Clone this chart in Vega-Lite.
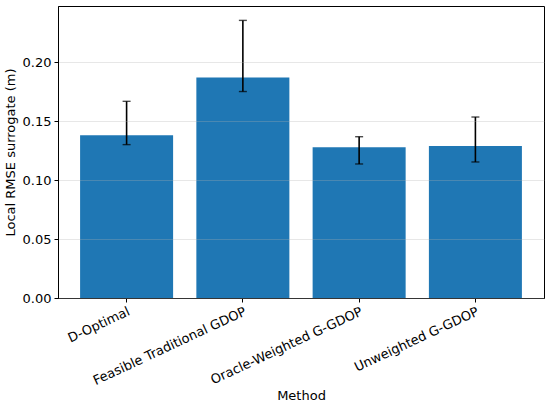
{
  "$schema": "https://vega.github.io/schema/vega-lite/v6.json",
  "width": 486,
  "height": 292,
  "autosize": "none",
  "padding": {"left": 58, "top": 6, "right": 6, "bottom": 107},
  "background": "white",
  "config": {
    "font": "DejaVu Sans",
    "view": {"stroke": "#000000", "strokeWidth": 1},
    "axis": {
      "labelFont": "DejaVu Sans",
      "titleFont": "DejaVu Sans",
      "labelFontSize": 13,
      "titleFontSize": 13,
      "titleFontWeight": "normal",
      "labelColor": "#000000",
      "titleColor": "#000000",
      "domainColor": "#000000",
      "tickColor": "#000000",
      "tickSize": 4
    }
  },
  "data": {
    "values": [
      {"Method": "D-Optimal", "rmse": 0.1379, "lo": 0.1300, "hi": 0.1667},
      {"Method": "Feasible Traditional GDOP", "rmse": 0.1870, "lo": 0.1750, "hi": 0.2353},
      {"Method": "Oracle-Weighted G-GDOP", "rmse": 0.1277, "lo": 0.1136, "hi": 0.1367},
      {"Method": "Unweighted G-GDOP", "rmse": 0.1288, "lo": 0.1153, "hi": 0.1534}
    ]
  },
  "encoding": {
    "x": {
      "field": "Method",
      "type": "nominal",
      "sort": null,
      "scale": {"paddingInner": 0.2, "paddingOuter": 0.19},
      "axis": {
        "title": "Method",
        "labelAngle": -25,
        "labelAlign": "right",
        "labelBaseline": "top",
        "labelPadding": 3,
        "titlePadding": 2,
        "grid": false
      }
    }
  },
  "layer": [
    {
      "mark": {"type": "bar", "color": "#1f77b4"},
      "encoding": {
        "y": {
          "field": "rmse",
          "type": "quantitative",
          "scale": {"domain": [0, 0.2475], "nice": false, "zero": true},
          "axis": {
            "title": "Local RMSE surrogate (m)",
            "values": [0, 0.05, 0.1, 0.15, 0.2],
            "format": ".2f",
            "grid": true,
            "gridColor": "#b0b0b0",
            "gridOpacity": 0.3,
            "gridWidth": 1,
            "zindex": 1,
            "titlePadding": 5,
            "labelPadding": 3
          }
        }
      }
    },
    {
      "mark": {"type": "rule", "color": "#000000", "strokeWidth": 1.6},
      "encoding": {
        "y": {"field": "lo", "type": "quantitative"},
        "y2": {"field": "hi"}
      }
    },
    {
      "mark": {"type": "tick", "color": "#000000", "thickness": 1.4, "size": 8, "orient": "horizontal"},
      "encoding": {
        "y": {"field": "lo", "type": "quantitative"}
      }
    },
    {
      "mark": {"type": "tick", "color": "#000000", "thickness": 1.4, "size": 8, "orient": "horizontal"},
      "encoding": {
        "y": {"field": "hi", "type": "quantitative"}
      }
    }
  ]
}
